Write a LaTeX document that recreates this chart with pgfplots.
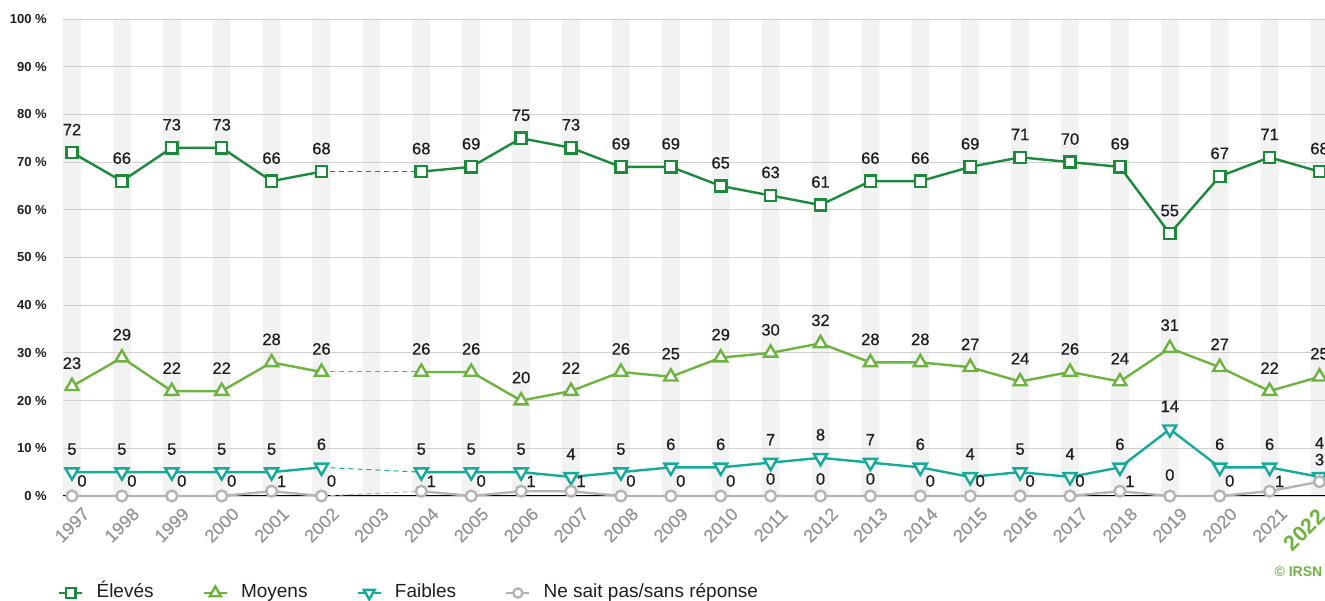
\documentclass[border=0pt]{standalone}
\usepackage{pgfplots}
\pgfplotsset{compat=1.18}
\usepackage{pgfplotstable}
\usepackage{fontspec}
\setmainfont{Liberation Sans}
\newfontfamily\medfont[FakeBold=0.6]{Liberation Sans}
\definecolor{elev}{RGB}{27,138,59}
\definecolor{moy}{RGB}{109,179,63}
\definecolor{faib}{RGB}{22,170,155}
\definecolor{nsp}{RGB}{180,180,180}
\definecolor{band}{RGB}{242,242,242}
\definecolor{gridc}{RGB}{208,208,208}
\definecolor{tickc}{RGB}{150,150,150}
\definecolor{lab}{RGB}{30,30,30}

\pgfplotstableread{
x y lx ly
1997 72 0 16
1998 66 0 16
1999 73 0 16
2000 73 0 16
2001 66 0 16
2002 68 0 16
2003 nan 0 16
2004 68 0 16
2005 69 0 16
2006 75 0 16
2007 73 0 16
2008 69 0 16
2009 69 0 16
2010 65 0 16
2011 63 0 16
2012 61 0 16
2013 66 0 16
2014 66 0 16
2015 69 0 16
2016 71 0 16
2017 70 0 16
2018 69 0 16
2019 55 0 16
2020 67 0 16
2021 71 0 16
2022 68 0 16
}\tabEl

\pgfplotstableread{
x y lx ly
1997 23 0 16
1998 29 0 16
1999 22 0 16
2000 22 0 16
2001 28 0 16
2002 26 0 16
2003 nan 0 16
2004 26 0 16
2005 26 0 16
2006 20 0 16
2007 22 0 16
2008 26 0 16
2009 25 0 16
2010 29 0 16
2011 30 0 16
2012 32 0 16
2013 28 0 16
2014 28 0 16
2015 27 0 16
2016 24 0 16
2017 26 0 16
2018 24 0 16
2019 31 0 16
2020 27 0 16
2021 22 0 16
2022 25 0 16
}\tabMo

\pgfplotstableread{
x y lx ly
1997 5 0 16
1998 5 0 16
1999 5 0 16
2000 5 0 16
2001 5 0 16
2002 6 0 16
2003 nan 0 16
2004 5 0 16
2005 5 0 16
2006 5 0 16
2007 4 0 16
2008 5 0 16
2009 6 0 16
2010 6 0 16
2011 7 0 16
2012 8 0 16
2013 7 0 16
2014 6 0 16
2015 4 0 16
2016 5 0 16
2017 4 0 16
2018 6 0 16
2019 14 0 16
2020 6 0 16
2021 6 0 16
2022 4 0 27
}\tabFa

\pgfplotstableread{
x y lx ly
1997 0 10 8
1998 0 10 8
1999 0 10 8
2000 0 10 8
2001 1 10 3
2002 0 10 8
2003 nan 0 0
2004 1 10 3
2005 0 10 8
2006 1 10 3
2007 1 10 3
2008 0 10 8
2009 0 10 8
2010 0 10 8
2011 0 0 10
2012 0 0 10
2013 0 0 10
2014 0 10 8
2015 0 10 8
2016 0 10 8
2017 0 10 8
2018 1 10 3
2019 0 0 14
2020 0 10 8
2021 1 10 3
2022 3 0 15
}\tabNs

\pgfplotsset{
  lbl/.style={
    nodes near coords,
    point meta=\thisrow{y},
    visualization depends on={\thisrow{lx} \as \lx},
    visualization depends on={\thisrow{ly} \as \ly},
    every node near coord/.append style={font=\medfont\fontsize{16.5}{16.5}\selectfont, text=lab,
      anchor=south, inner sep=0pt, xshift=\lx pt, yshift=\ly pt},
  },
}

\begin{document}
\begin{tikzpicture}
\begin{axis}[
  set layers,
  at={(63pt,105pt)}, anchor=south west,
  scale only axis,
  width=1261.5pt, height=477pt,
  xmin=1996.82, xmax=2022.1,
  ymin=0, ymax=100,
  enlargelimits=false,
  clip=false,
  unbounded coords=jump,
  /pgf/number format/assume math mode=true,
  axis x line*=bottom,
  axis y line*=left,
  x axis line style={black, line width=1pt},
  y axis line style={draw=none},
  major tick length=0pt,
  ytick={0,10,...,100},
  yticklabels={0 \%,10 \%,20 \%,30 \%,40 \%,50 \%,60 \%,70 \%,80 \%,90 \%,100 \%},
  yticklabel style={anchor=east, inner sep=0pt, xshift=-16pt, text=lab,
    font=\bfseries\fontsize{13}{13}\selectfont},
  ymajorgrids,
  major grid style={color=gridc, line width=0.9pt},
  xtick={1997,1998,1999,2000,2001,2002,2003,2004,2005,2006,2007,2008,2009,2010,2011,2012,2013,2014,2015,2016,2017,2018,2019,2020,2021},
  xticklabels={1997,1998,1999,2000,2001,2002,2003,2004,2005,2006,2007,2008,2009,2010,2011,2012,2013,2014,2015,2016,2017,2018,2019,2020,2021},
  xticklabel shift=29pt,
  xticklabel style={anchor=center, rotate=45, inner sep=0pt, text=tickc,
    font=\medfont\fontsize{18}{18}\selectfont},
  extra x ticks={2022},
  extra x tick labels={2022},
  extra x tick style={xticklabel shift=34pt,
    xticklabel style={xshift=-10.6pt, yshift=10.6pt, text=moy,
      font=\bfseries\fontsize{21.5}{21.5}\selectfont}},
  legend columns=4,
  legend cell align=left,
  legend image code/.code={\begin{scope}[every mark/.append style={scale=0.85}]
    \draw[mark repeat=2,mark phase=2,#1] plot coordinates {(0pt,0pt) (11.5pt,0pt) (23pt,0pt)};
    \end{scope}},
  legend style={at={(0,0)}, anchor=west, xshift=-5pt, yshift=-97pt,
    draw=none, fill=none, inner sep=0pt, text=lab,
    font=\fontsize{19}{19}\selectfont,
    nodes={text height=14pt, text depth=4pt},
    /tikz/every odd column/.append style={column sep=11pt},
    /tikz/every even column/.append style={column sep=47pt}},
]
% grey year bands
\addplot[ybar, bar width=18pt, bar shift=0pt, fill=band, draw=none, forget plot,
  on layer=axis background] coordinates {
  (1997,100) (1998,100) (1999,100) (2000,100) (2001,100) (2002,100) (2003,100)
  (2004,100) (2005,100) (2006,100) (2007,100) (2008,100) (2009,100) (2010,100)
  (2011,100) (2012,100) (2013,100) (2014,100) (2015,100) (2016,100) (2017,100)
  (2018,100) (2019,100) (2020,100) (2021,100) (2022,100)};

% dashed links across 2003
\addplot[elev, line width=1pt, dash pattern=on 5pt off 4pt, forget plot] coordinates {(2002,68) (2004,68)};
\addplot[moy, line width=1pt, dash pattern=on 5pt off 4pt, forget plot] coordinates {(2002,26) (2004,26)};
\addplot[faib, line width=1pt, dash pattern=on 5pt off 4pt, forget plot] coordinates {(2002,6) (2004,5)};
\addplot[nsp, line width=1pt, dash pattern=on 5pt off 4pt, forget plot] coordinates {(2002,0) (2004,1)};

\addplot[elev, line width=2.4pt, mark=square*, mark size=5.6pt,
  mark options={fill=white, solid}, lbl] table[x=x, y=y] {\tabEl};
\addlegendentry{Élevés}
\addplot[moy, line width=2.4pt, mark=triangle*, mark size=7.5pt,
  mark options={fill=white, solid}, lbl] table[x=x, y=y] {\tabMo};
\addlegendentry{Moyens}
\addplot[faib, line width=2.4pt, mark=triangle*, mark size=7.5pt,
  mark options={fill=white, solid, rotate=180}, lbl] table[x=x, y=y] {\tabFa};
\addlegendentry{Faibles}
\addplot[nsp, line width=2.4pt, mark=*, mark size=5.4pt,
  mark options={fill=white, solid}, lbl] table[x=x, y=y] {\tabNs};
\addlegendentry{Ne sait pas/sans réponse}

\node[anchor=east, inner sep=0pt, text=moy, font=\bfseries\fontsize{14}{14}\selectfont,
  xshift=-2pt, yshift=-76pt] at (rel axis cs:1,0) {© IRSN};
\end{axis}
\pgfresetboundingbox
\path[use as bounding box] (0,0) rectangle (1325pt,601pt);
\end{tikzpicture}
\end{document}
